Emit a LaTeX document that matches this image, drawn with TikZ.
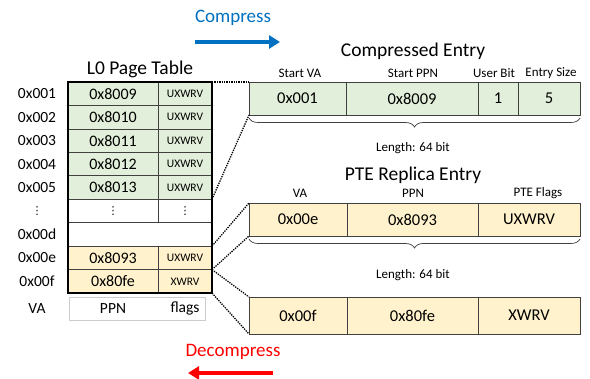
\documentclass[tikz,border=0pt]{standalone}
\usepackage{fontspec}
\setmainfont{Carlito}
\newfontfamily\symfont{DejaVu Sans}
\usetikzlibrary{decorations.pathreplacing,arrows.meta}
\definecolor{lgreen}{HTML}{E2EFDA}
\definecolor{lyellow}{HTML}{FFF2CC}
\definecolor{cblue}{HTML}{0070C0}
\definecolor{cred}{HTML}{FF0000}
\definecolor{lineg}{HTML}{404040}
\newcommand{\vdts}{{\symfont\fontsize{11}{11}\selectfont ⋮}}
\tikzset{
  cell/.style={draw=lineg, line width=0.6pt, minimum height=23.45pt, inner sep=0pt, outer sep=0pt, anchor=north west, font=\fontsize{16}{16}\selectfont},
  pcell/.style={cell, minimum width=90pt},
  fcell/.style={cell, minimum width=54pt, font=\fontsize{11.5}{11.5}\selectfont},
  green/.style={fill=lgreen},
  yel/.style={fill=lyellow},
  valab/.style={font=\fontsize{15.5}{15.5}\selectfont},
  ecell/.style={draw=lineg, line width=0.7pt, inner sep=0pt, outer sep=0pt, anchor=north west, font=\fontsize{16.5}{16.5}\selectfont},
  hdr/.style={font=\fontsize{13}{13}\selectfont},
  ttl/.style={font=\fontsize{19.5}{19.5}\selectfont},
  conn/.style={line width=1.3pt, dash pattern=on 1.3pt off 1.1pt},
  brc/.style={decorate, decoration={brace, mirror, amplitude=9pt}, line width=0.7pt, draw=lineg},
  bigarrow/.style={line width=3.8pt, -{Triangle[length=11pt,width=13pt]}},
}
\begin{document}
\begin{tikzpicture}[x=1pt,y=-1pt]
\useasboundingbox (0,0) rectangle (590,379);
% arrows
\node[font=\fontsize{19}{19}\selectfont, text=cblue] (comp) at (233,18) {Compress};
\coordinate (cs) at (195,42);
\coordinate (ce) at (280,42);
\draw[bigarrow, cblue] (cs) -- (ce);
\node[font=\fontsize{19}{19}\selectfont, text=cred] (decomp) at (233,352) {Decompress};
\coordinate (ds) at (273,373);
\coordinate (de) at (188,373);
\draw[bigarrow, cred] (ds) -- (de);

% page table
\node[ttl] (pttl) at (140,69) {L0 Page Table};
\def\rh{23.45}
\node[pcell,green] (p1) at (68,82) {0x8009};
\node[fcell,green] (f1) at (158,82) {UXWRV};
\node[pcell,green] (p2) at (68,82+\rh) {0x8010};
\node[fcell,green] (f2) at (158,82+\rh) {UXWRV};
\node[pcell,green] (p3) at (68,82+2*\rh) {0x8011};
\node[fcell,green] (f3) at (158,82+2*\rh) {UXWRV};
\node[pcell,green] (p4) at (68,82+3*\rh) {0x8012};
\node[fcell,green] (f4) at (158,82+3*\rh) {UXWRV};
\node[pcell,green] (p5) at (68,82+4*\rh) {0x8013};
\node[fcell,green] (f5) at (158,82+4*\rh) {UXWRV};
\node[pcell] (p6) at (68,82+5*\rh) {\vdts};
\node[fcell] (f6) at (158,82+5*\rh) {\vdts};
\node[cell, minimum width=144pt] (p7) at (68,82+6*\rh) {};
\node[pcell,yel] (p8) at (68,82+7*\rh) {0x8093};
\node[fcell,yel] (f8) at (158,82+7*\rh) {UXWRV};
\node[pcell,yel] (p9) at (68,82+8*\rh) {0x80fe};
\node[fcell,yel] (f9) at (158,82+8*\rh) {XWRV};
\draw[line width=1.6pt] (p1.north west) rectangle (f9.south east);
% VA labels
\node[valab] (v1) at (37,82+0.5*\rh) {0x001};
\node[valab] (v2) at (37,82+1.5*\rh) {0x002};
\node[valab] (v3) at (37,82+2.5*\rh) {0x003};
\node[valab] (v4) at (37,82+3.5*\rh) {0x004};
\node[valab] (v5) at (37,82+4.5*\rh) {0x005};
\node[valab] (v6) at (37,82+5.5*\rh) {\vdts};
\node[valab] (v7) at (37,82+6.5*\rh) {0x00d};
\node[valab] (v8) at (37,82+7.5*\rh) {0x00e};
\node[valab] (v9) at (37,82+8.5*\rh) {0x00f};
% legend
\node[draw=black!20, line width=0.6pt, minimum width=136pt, minimum height=23pt, inner sep=0pt, anchor=north west] (leg) at (69,297) {};
\node[valab] (lva) at (37,308.5) {VA};
\node[valab] (lppn) at (113,308.5) {PPN};
\node[valab] (lfl) at (185,308.5) {flags};

% compressed entry
\node[ttl] (cttl) at (413,51) {Compressed Entry};
\node[ecell, green, minimum width=97pt, minimum height=33pt] (c1) at (249,82) {0x001};
\node[ecell, green, minimum width=132pt, minimum height=33pt] (c2) at (346,82) {0x8009};
\node[ecell, green, minimum width=40pt, minimum height=33pt] (c3) at (478,82) {1};
\node[ecell, green, minimum width=62pt, minimum height=33pt] (c4) at (518,82) {5};
\node[hdr] (h1) at (300,73) {Start VA};
\node[hdr] (h2) at (413,73) {Start PPN};
\node[hdr] (h3) at (494,73) {User Bit};
\node[hdr] (h4) at (551,73) {Entry Size};
\draw[brc] ([yshift=-3pt]c1.south west) -- ([yshift=-3pt]c4.south east);
\node[hdr] (cl) at (413,148) {Length: 64 bit};

% PTE replica entry
\node[ttl] (rttl) at (413,175) {PTE Replica Entry};
\node[ecell, yel, minimum width=98pt, minimum height=33pt] (r1) at (249,203) {0x00e};
\node[ecell, yel, minimum width=131pt, minimum height=33pt] (r2) at (347,203) {0x8093};
\node[ecell, yel, minimum width=102pt, minimum height=33pt] (r3) at (478,203) {UXWRV};
\node[hdr] (g1) at (300,193) {VA};
\node[hdr] (g2) at (413,193) {PPN};
\node[hdr] (g3) at (538,193) {PTE Flags};
\draw[brc] ([yshift=-3pt]r1.south west) -- ([yshift=-3pt]r3.south east);
\node[hdr] (rl) at (413,275) {Length: 64 bit};

% second replica
\node[ecell, yel, minimum width=98pt, minimum height=37pt] (s1) at (249,297) {0x00f};
\node[ecell, yel, minimum width=131pt, minimum height=37pt] (s2) at (347,297) {0x80fe};
\node[ecell, yel, minimum width=102pt, minimum height=37pt] (s3) at (478,297) {XWRV};

% connectors
\draw[conn] (f1.north east) -- (c1.north west);
\draw[conn] (f5.south east) -- (c1.south west);
\draw[conn] (f8.north east) -- (r1.north west);
\draw[conn] (f8.south east) -- (r1.south west);
\draw[conn] (f9.north east) -- (s1.north west);
\draw[conn] (f9.south east) -- (s1.south west);
\end{tikzpicture}
\end{document}
